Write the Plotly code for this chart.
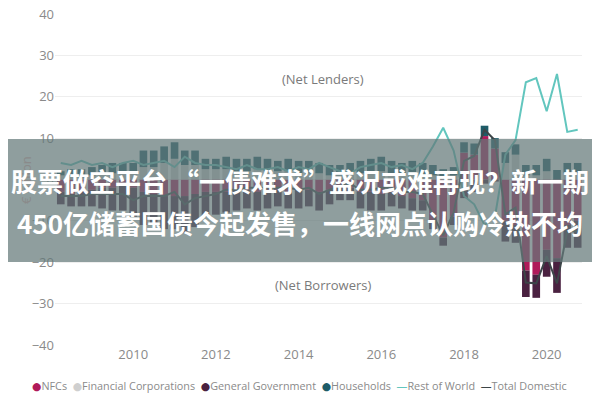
import pandas as pd
import plotly.graph_objects as go

# Quarterly categories 2008Q2 .. 2020Q4
quarters = pd.date_range("2008-04-01", periods=51, freq="QS")

nfc = [-3, -3.5, -3, -2.5, -2, -2, -1.5,
       -2, -3, -3.5, -4, -4, -4, -3.5, -3, -3,
       -3, -2.5, -2.5, -3, -2.5, -2.5, -3, -2.5, -2.5, -3, -2.5, -2, -2, -3, -3, -3.5, -3, -4, -4.5, -5,
       -10, -14, -9, 6.5, 6, 10.5, 7.5, -10, -11,
       -22, -23, -17, -19, -11, -10]
fin = [1, 1, 0.5, 1, 1.5, 1.5, 2,
       1.5, 3, 3, 4, 5, 3.5, 3.5, 2.5, 2.5,
       2.5, 2, 2, 2.5, 2, 2, 2, 1.5, 1.5, 1.5, 1, 1, 1.5, 1.5, 2, 2, 1.5, 1.5, 1.5, 1,
       1, 0.5, 1, -2, 0, 0, 0, 4, 6,
       1, 1, 2, 0, 1.5, 1.5]
gov = [-3, -3, -3.5, -4, -5, -5.5, -6,
       -7, -8, -7.5, -8, -8, -9, -8, -6, -5.5,
       -5, -5, -4.5, -4.5, -4.5, -4, -4, -4.5, -4, -4.5, -3.5, -3, -3, -4, -4.5, -4, -3.5, -3, -3, -2.5,
       -2, -2, -2, -2.5, -3, -1, -0.5, -5, -4.3,
       -6.4, -5.6, -6.5, -8.4, -5.5, -6.5]
hh = [1, 1.5, 2, 2, 2, 2.5, 2,
      2.5, 4, 4, 4, 4, 3.5, 3.5, 2.5, 2.5,
      3, 3, 3, 3, 3, 2.5, 3, 3, 3, 2.5, 2.5, 2.5, 2.5, 3, 3, 3.5, 3, 2.5, 3, 3,
      2.5, 2, 2, 2.5, 2.7, 2.5, 2.5, 2.6, 2.5,
      2.5, 2.5, 3, 2.3, 2.5, 2.5]
rest_of_world = [4, 3.5, 4.5, 3.5, 4, 3, 4,
                 4.5, 3.5, 4, 4.5, 3, 5.5, 4, 3.5, 3.5,
                 3, 2.5, 3.5, 2.5, 2.5, 3, 2, 3, 2.5, 4, 3, 2, 1.5, 3, 3.5, 4, 3, 3.5, 2.5, 4,
                 8, 12.5, 7, -4, -6, -11, -9, 6, 9.5,
                 23.5, 24.5, 16.5, 25.5, 11.5, 12]
total_domestic = [-4, -4, -4, -3.5, -3.5, -3.5, -3.5,
                  -5, -4, -4, -4, -3, -6, -4.5, -4, -3.5,
                  -2.5, -2.5, -2, -2, -2, -2, -2, -2.5, -2, -3.5, -2.5, -1.5, -1, -2.5, -2.5, -2, -2, -3, -3, -3.5,
                  -8.5, -13.5, -8, 4.5, 5.7, 12, 9.5, -8.4, -6.8,
                  -24.9, -25.1, -18.5, -25.1, -12.5, -12.5]

series_names = ["NFCs", "Financial Corporations", "General Government", "Households",
                "Rest of World", "Total Domestic"]

C_NFC = "#B01A5A"
C_FIN = "#CFCFCF"
C_GOV = "#4A2140"
C_HH = "#1E5C68"
C_ROW = "#62C6BE"
C_TOT = "#3C4548"
colors = [C_NFC, C_FIN, C_GOV, C_HH, C_ROW, C_TOT]

fig = go.Figure()
for name, vals, col in zip(series_names[:4], [nfc, fin, gov, hh], colors[:4]):
    fig.add_trace(go.Bar(x=quarters, y=vals, name=name, marker_color=col,
                         marker_line_width=0, showlegend=False))
fig.add_trace(go.Scatter(x=quarters, y=rest_of_world, mode="lines", name=series_names[4],
                         line=dict(color=C_ROW, width=2), showlegend=False))
fig.add_trace(go.Scatter(x=quarters, y=total_domestic, mode="lines", name=series_names[5],
                         line=dict(color=C_TOT, width=2), showlegend=False))

# page body adds an 8px offset, so the figure is 592x392
fig.update_layout(
    width=592, height=392,
    margin=dict(l=47, r=18, t=6, b=55),
    paper_bgcolor="white", plot_bgcolor="white",
    barmode="relative", bargap=0.25,
    showlegend=False,
    font=dict(family="Open Sans, DejaVu Sans, sans-serif", color="#8a8a8a"),
    xaxis=dict(type="date", range=["2008-02-10", "2020-11-08"], tickformat="%Y",
               dtick="M24", tick0="2010-01-01", showgrid=False, zeroline=False,
               showline=False, ticks="", automargin=False,
               tickfont=dict(size=13, color="#8a8a8a")),
    yaxis=dict(range=[-40, 40], dtick=10, showgrid=True, gridcolor="#eeeeee",
               gridwidth=1, zeroline=False, showline=False, ticks="", automargin=False,
               ticklabeloverflow="allow",
               tickfont=dict(size=13, color="#8a8a8a")),
)

# y axis title
fig.add_annotation(x=-0.0759, y=0.4985, xref="paper", yref="paper", text="€ billion",
                   textangle=-90, showarrow=False, font=dict(size=13, color="#8a8a8a"))

# legend row (coloured dots / dashes followed by series names)
legend_parts = []
for i, (name, col) in enumerate(zip(series_names, colors)):
    sym = "●" if i < 4 else "—"
    legend_parts.append(f"<span style='color:{col}'>{sym}</span>{name}")
fig.add_annotation(x=0.463, y=-0.121, xref="paper", yref="paper", yanchor="middle",
                   text="  ".join(legend_parts), showarrow=False,
                   font=dict(size=10.8, color="#8a8a8a"))

fig.add_annotation(x=0.5085, y=0.837, xref="paper", yref="paper", text="(Net Lenders)",
                   showarrow=False, font=dict(size=13, color="#7a7a7a"))
fig.add_annotation(x=0.5085, y=0.148, xref="paper", yref="paper", text="(Net Borrowers)",
                   showarrow=False, font=dict(size=13, color="#7a7a7a"))

# grey overlay band with headline
fig.add_shape(type="rect", xref="paper", yref="paper",
              x0=-0.2, x1=1.1, y0=0.2508, y1=0.6224,
              fillcolor="rgb(100,120,120)", opacity=0.72, line_width=0, layer="above")
fig.add_annotation(x=0.465, y=0.4955, xref="paper", yref="paper", yanchor="middle",
                   text="股票做空平台 “一债难求”盛况或难再现？新一期", showarrow=False,
                   font=dict(family="Noto Sans CJK SC", size=26, color="white", weight="bold"))
fig.add_annotation(x=0.465, y=0.3716, xref="paper", yref="paper", yanchor="middle",
                   text="450亿储蓄国债今起发售，一线网点认购冷热不均", showarrow=False,
                   font=dict(family="Noto Sans CJK SC", size=26, color="white", weight="bold"))

fig.write_html("out.html")
